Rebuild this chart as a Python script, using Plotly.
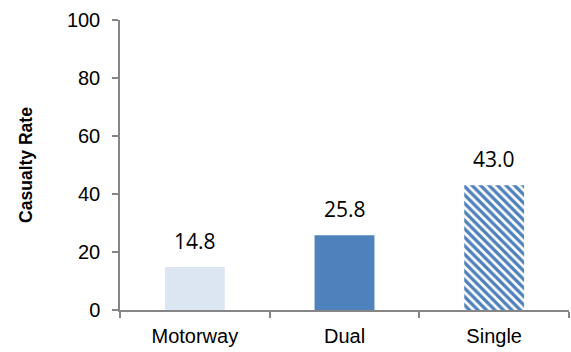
import plotly.graph_objects as go

categories = ["Motorway", "Dual", "Single"]
casualty_rate = [14.8, 25.8, 43.0]
y_ticks = [0, 20, 40, 60, 80, 100]

fill_colors = ["#dce6f2", "#4f81bd", "#4f81bd"]
patterns = ["", "", "\\"]

fig = go.Figure()
fig.add_trace(go.Bar(
    x=[0, 1, 2],
    y=casualty_rate,
    width=0.4,
    marker=dict(
        color=fill_colors,
        line=dict(width=0),
        pattern=dict(shape=patterns, fgcolor=fill_colors,
                     bgcolor=["#ffffff", "#ffffff", "#ffffff"],
                     size=6, solidity=0.55, fillmode="replace"),
    ),
    hoverinfo="skip",
))

for i, v in enumerate(casualty_rate):
    fig.add_annotation(x=i, y=v, text=f"{v:.1f}", showarrow=False,
                       yanchor="bottom", yshift=10,
                       font=dict(family="Open Sans, sans-serif", size=21, color="#000000"))

fig.update_layout(
    width=571, height=352,
    margin=dict(l=120, r=2, t=20, b=42),
    paper_bgcolor="#ffffff", plot_bgcolor="#ffffff",
    showlegend=False,
    font=dict(family="Liberation Sans, Arial, sans-serif", size=20, color="#000000"),
)
fig.update_xaxes(
    range=[-0.5, 2.5],
    tickmode="array", tickvals=[0, 1, 2], ticktext=categories,
    showline=True, linecolor="#868686", linewidth=1.5,
    showgrid=False, zeroline=False,
    ticks="", ticklabelstandoff=7,
    minor=dict(tickmode="array", tickvals=[-0.5, 0.5, 1.5, 2.5], ticks="outside",
               ticklen=6, tickcolor="#868686", tickwidth=1.5),
)
fig.update_yaxes(
    range=[0, 100],
    tickmode="array", tickvals=y_ticks,
    showline=True, linecolor="#868686", linewidth=1.5,
    showgrid=False, zeroline=False,
    ticks="outside", ticklen=6, tickcolor="#868686", tickwidth=1.5,
    ticklabelstandoff=8,
    title=dict(text="<b>Casualty Rate</b>", font=dict(size=17.5), standoff=30),
)

fig.write_html("out.html")
